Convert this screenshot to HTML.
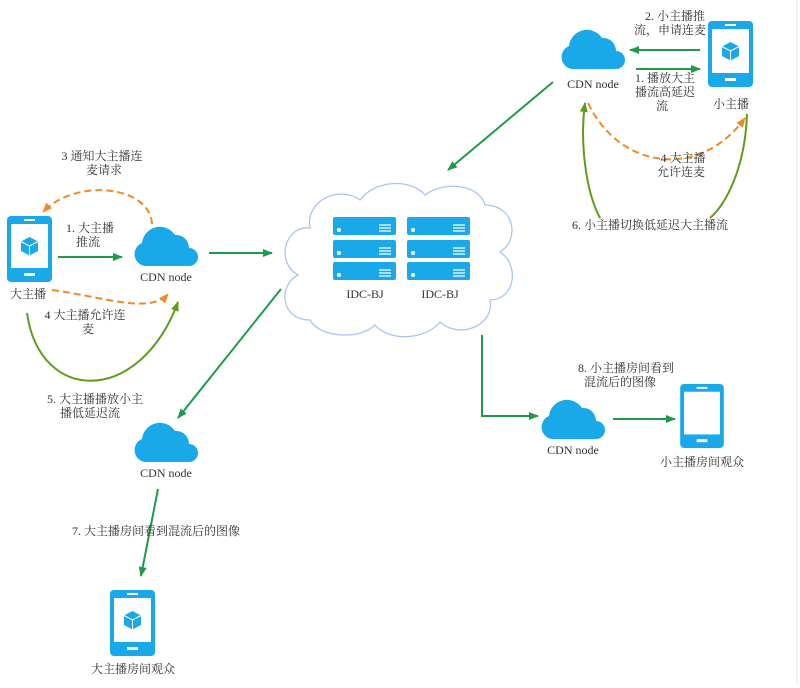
<!DOCTYPE html>
<html><head><meta charset="utf-8"><style>
body{margin:0;background:#fff}
svg text{font-family:"Liberation Serif","Noto Serif CJK SC",serif;font-size:12px;fill:#333}
</style></head><body>
<svg width="800" height="683" viewBox="0 0 800 683" xmlns="http://www.w3.org/2000/svg">
<defs>
<symbol id="cloud" viewBox="0 0 66 42"><path d="M12,42 A12,12 0 0 1 9,19 A18,18 0 0 1 42,11 A13,13 0 0 1 56,24 A9,9 0 0 1 56,42 Z" fill="#1aa9e8"/></symbol>
<symbol id="phone" viewBox="0 0 45 66"><rect x="0" y="0" width="45" height="66" rx="4" fill="#1aa9e8"/><rect x="4" y="8" width="37" height="44" fill="#fff"/><rect x="17" y="3" width="11" height="2" fill="#fff"/><rect x="17" y="57" width="11" height="3" fill="#fff"/>
<g class="cube"><path d="M22.5,21 L31,25.5 L31,35 L22.5,39.5 L14,35 L14,25.5 Z" fill="#1aa9e8"/><path d="M14,25.5 L22.5,30 L31,25.5 M22.5,30 L22.5,39.5" stroke="#fff" stroke-width="1" fill="none"/></g></symbol>
<symbol id="phone2" viewBox="0 0 45 66"><rect x="0" y="0" width="45" height="66" rx="4" fill="#1aa9e8"/><rect x="4" y="8" width="37" height="44" fill="#fff"/><rect x="17" y="3" width="11" height="2" fill="#fff"/><rect x="17" y="57" width="11" height="3" fill="#fff"/></symbol>
<symbol id="srv" viewBox="0 0 63 18"><rect width="63" height="18" rx="2" fill="#1aa9e8"/><circle cx="6" cy="13" r="2" fill="#fff"/><path d="M46,8h12M46,11h12M46,14h12" stroke="#fff" stroke-width="1.2"/></symbol>
<marker id="ag" markerWidth="10" markerHeight="8" refX="9" refY="4" orient="auto" markerUnits="userSpaceOnUse"><path d="M0,0 L10,4 L0,8 Z" fill="#1f9a48"/></marker>
<marker id="ao" markerWidth="10" markerHeight="8" refX="9" refY="4" orient="auto" markerUnits="userSpaceOnUse"><path d="M0,0 L10,4 L0,8 Z" fill="#f08a24"/></marker>
<marker id="al" markerWidth="10" markerHeight="8" refX="9" refY="4" orient="auto" markerUnits="userSpaceOnUse"><path d="M0,0 L10,4 L0,8 Z" fill="#5e9c1c"/></marker>
</defs>
<line x1="797" y1="0" x2="797" y2="683" stroke="#e4e4e4"/>

<path d="M310,320 C280,320 278,285 298,275 C275,262 285,225 310,228 C305,200 340,185 360,200 C375,180 410,178 425,195 C445,180 480,185 485,205 C515,205 520,240 500,252 C520,265 515,300 490,300 C495,325 460,340 440,322 C425,340 390,342 375,325 C360,340 320,338 310,320 Z" fill="#fff" stroke="#a9c6ec" stroke-width="1.3"/>
<use href="#srv" x="333" y="217" width="63" height="18"/><use href="#srv" x="333" y="240" width="63" height="18"/><use href="#srv" x="333" y="262" width="63" height="18"/>
<use href="#srv" x="407" y="217" width="63" height="18"/><use href="#srv" x="407" y="240" width="63" height="18"/><use href="#srv" x="407" y="262" width="63" height="18"/>
<text x="365" y="298" text-anchor="middle">IDC-BJ</text><text x="440" y="298" text-anchor="middle">IDC-BJ</text>

<use href="#phone" x="7" y="216" width="45" height="66"/>
<text x="28" y="298" text-anchor="middle">大主播</text>
<use href="#cloud" x="133" y="224" width="66" height="42"/>
<text x="166" y="281" text-anchor="middle">CDN node</text>
<line x1="58" y1="257" x2="122" y2="257" stroke="#1f9a48" stroke-width="2" marker-end="url(#ag)"/>
<text x="90" y="232" text-anchor="middle">1. 大主播</text><text x="88" y="246" text-anchor="middle">推流</text>
<line x1="209" y1="253" x2="272" y2="253" stroke="#1f9a48" stroke-width="2" marker-end="url(#ag)"/>
<path d="M152,224 C150,185 75,178 43,212" fill="none" stroke="#f08a24" stroke-width="2" stroke-dasharray="7,4" marker-end="url(#ao)"/>
<text x="102" y="160" text-anchor="middle">3 通知大主播连</text><text x="104" y="174" text-anchor="middle">麦请求</text>
<path d="M52,290 C100,296 150,315 168,294" fill="none" stroke="#f08a24" stroke-width="2" stroke-dasharray="7,4" marker-end="url(#ao)"/>
<text x="85" y="319" text-anchor="middle">4 大主播允许连</text><text x="88" y="333" text-anchor="middle">麦</text>
<path d="M27,313 C40,405 140,405 178,302" fill="none" stroke="#5e9c1c" stroke-width="2" marker-end="url(#al)"/>
<text x="95" y="403" text-anchor="middle">5. 大主播播放小主</text><text x="90" y="417" text-anchor="middle">播低延迟流</text>
<line x1="281" y1="289" x2="178" y2="418" stroke="#1f9a48" stroke-width="2" marker-end="url(#ag)"/>

<use href="#cloud" x="133" y="420" width="66" height="42"/>
<text x="166" y="477" text-anchor="middle">CDN node</text>
<line x1="158" y1="489" x2="141" y2="576" stroke="#1f9a48" stroke-width="2" marker-end="url(#ag)"/>
<text x="72" y="535">7. 大主播房间看到混流后的图像</text>
<use href="#phone" x="110" y="590" width="45" height="66"/>
<text x="133" y="673" text-anchor="middle">大主播房间观众</text>

<use href="#cloud" x="560" y="27" width="66" height="42"/>
<text x="593" y="88" text-anchor="middle">CDN node</text>
<use href="#phone" x="708" y="20" width="45" height="68"/>
<text x="731" y="108" text-anchor="middle">小主播</text>
<line x1="700" y1="50" x2="630" y2="50" stroke="#1f9a48" stroke-width="2" marker-end="url(#ag)"/>
<text x="675" y="20" text-anchor="middle">2. 小主播推</text><text x="670" y="34" text-anchor="middle">流，申请连麦</text>
<line x1="636" y1="69" x2="700" y2="69" stroke="#1f9a48" stroke-width="2" marker-end="url(#ag)"/>
<text x="665" y="82" text-anchor="middle">1. 播放大主</text><text x="665" y="96" text-anchor="middle">播流高延迟</text><text x="662" y="110" text-anchor="middle">流</text>
<path d="M588,103 C620,170 700,180 745,118" fill="none" stroke="#f08a24" stroke-width="2" stroke-dasharray="7,4" marker-end="url(#ao)"/>
<text x="683" y="162" text-anchor="middle">4 大主播</text><text x="681" y="176" text-anchor="middle">允许连麦</text>
<path d="M747,114 C745,170 725,205 710,218" fill="none" stroke="#5e9c1c" stroke-width="2"/>
<path d="M600,218 C585,190 580,140 585,103" fill="none" stroke="#5e9c1c" stroke-width="2" marker-end="url(#al)"/>
<text x="650" y="229" text-anchor="middle">6. 小主播切换低延迟大主播流</text>
<line x1="553" y1="82" x2="448" y2="170" stroke="#1f9a48" stroke-width="2" marker-end="url(#ag)"/>

<path d="M482,335 L482,416 L538,416" fill="none" stroke="#1f9a48" stroke-width="2" marker-end="url(#ag)"/>
<use href="#cloud" x="540" y="397" width="66" height="42"/>
<text x="573" y="454" text-anchor="middle">CDN node</text>
<line x1="613" y1="419" x2="675" y2="419" stroke="#1f9a48" stroke-width="2" marker-end="url(#ag)"/>
<use href="#phone2" x="680" y="384" width="44" height="64"/>
<text x="702" y="466" text-anchor="middle">小主播房间观众</text>
<text x="626" y="372" text-anchor="middle">8. 小主播房间看到</text><text x="620" y="386" text-anchor="middle">混流后的图像</text>
</svg>
</body></html>
